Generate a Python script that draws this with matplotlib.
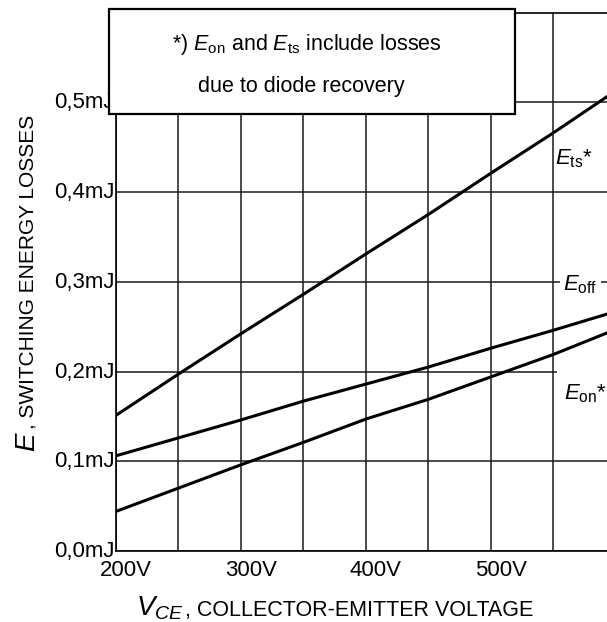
import matplotlib
matplotlib.use("Agg")
import matplotlib.pyplot as plt
from matplotlib.patches import Rectangle
from matplotlib.ticker import MultipleLocator, FixedLocator
import matplotlib.transforms as mtransforms

plt.rcParams['font.family'] = ['Liberation Sans', 'DejaVu Sans']
plt.rcParams['mathtext.fontset'] = 'custom'
plt.rcParams['mathtext.it'] = 'Liberation Sans:italic'
plt.rcParams['mathtext.rm'] = 'Liberation Sans'
plt.rcParams['mathtext.cal'] = 'Liberation Sans:italic'

# ---- data ----
voltage = [200, 250, 300, 350, 400, 450, 500, 550, 600]
E_ts = [0.151, 0.197, 0.242, 0.286, 0.331, 0.375, 0.421, 0.466, 0.513]
E_off = [0.106, 0.126, 0.146, 0.167, 0.186, 0.205, 0.226, 0.246, 0.267]
E_on = [0.044, 0.070, 0.096, 0.121, 0.147, 0.169, 0.194, 0.219, 0.247]

x_ticks = [200, 300, 400, 500]
x_tick_labels = ['200V', '300V', '400V', '500V']
y_ticks = [0.0, 0.1, 0.2, 0.3, 0.4, 0.5]
y_tick_labels = ['0,0mJ', '0,1mJ', '0,2mJ', '0,3mJ', '0,4mJ', '0,5mJ']

W, H = 607, 622
fig = plt.figure(figsize=(W / 100, H / 100), dpi=100)
ax = fig.add_axes([115.7 / W, (H - 551) / H, (W - 115.7) / W, (551 - 12.7) / H])

ax.set_xlim(200, 593.0)
ax.set_ylim(0, 0.6)

for s in ['left', 'bottom', 'top']:
    ax.spines[s].set_linewidth(1.2)
    ax.spines[s].set_color('black')
ax.spines['right'].set_visible(False)

ax.xaxis.set_major_locator(FixedLocator(x_ticks))
ax.xaxis.set_minor_locator(MultipleLocator(50))
ax.yaxis.set_major_locator(FixedLocator(y_ticks))
ax.set_xticklabels(x_tick_labels, fontsize=16)
ax.set_yticklabels(y_tick_labels, fontsize=16)
ax.tick_params(axis='both', which='both', length=0)
ax.tick_params(axis='x', pad=6.5)
ax.tick_params(axis='y', pad=0.5)
ax.set_axisbelow(True)
ax.grid(True, which='both', axis='x', color='#1a1a1a', linewidth=1.1)
ax.grid(True, which='major', axis='y', color='#1a1a1a', linewidth=1.1)

# shift x tick labels right (digits centred on the grid line)
offset = mtransforms.ScaledTranslation(10 / 100, 0, fig.dpi_scale_trans)
for lab in ax.get_xticklabels():
    lab.set_transform(lab.get_transform() + offset)
# lift y tick labels slightly
yoff = mtransforms.ScaledTranslation(0, 2 / 100, fig.dpi_scale_trans)
for lab in ax.get_yticklabels():
    lab.set_transform(lab.get_transform() + yoff)

# curves
for series in (E_ts, E_off, E_on):
    ax.plot(voltage, series, color='black', linewidth=2.2, zorder=3,
            solid_capstyle='butt')

# white mask that interrupts the 0,2 mJ grid line next to the E_on label
ax.add_patch(Rectangle((553.2, 0.194), 60, 0.012, facecolor='white',
                       edgecolor='none', zorder=1, clip_on=True))

# curve labels
ax.text(551.4, 0.4308, r'$E_{\mathrm{ts}}$*', fontsize=16, ha='left',
        va='baseline', zorder=4)
ax.text(557.8, 0.290, r'$E_{\mathrm{off}}$', fontsize=16, ha='left',
        va='baseline', zorder=4,
        bbox=dict(boxstyle='square,pad=0.15', facecolor='white', edgecolor='none'))
ax.text(558.5, 0.1689, r'$E_{\mathrm{on}}$*', fontsize=16, ha='left',
        va='baseline', zorder=4)

# note box
box = Rectangle((109 / W, (H - 114.3) / H), 406 / W, 105 / H,
                transform=fig.transFigure, facecolor='white', edgecolor='black',
                linewidth=1.6, zorder=10, clip_on=False)
ax.add_patch(box)
ax.text(307 / W, (H - 50) / H,
        r'*) $E_{\mathrm{on}}$ and $E_{\mathrm{ts}}$ include losses',
        transform=fig.transFigure, fontsize=15.5, ha='center', va='baseline',
        zorder=11)
ax.text(301.5 / W, (H - 91.7) / H, 'due to diode recovery',
        transform=fig.transFigure, fontsize=15.5, ha='center', va='baseline',
        zorder=11)

# y label: big italic E + rest
fig.text(35 / W, (H - 451.7) / H, r'$E$', fontsize=20, rotation=90,
         rotation_mode='anchor', ha='left', va='baseline')
fig.text(34 / W, (H - 115) / H, ', SWITCHING ENERGY LOSSES', fontsize=15,
         rotation=90, rotation_mode='anchor', ha='right', va='baseline')

# x label: big italic V_CE + rest
fig.text(136 / W, (H - 616) / H, r'$V_{CE}$', fontsize=20, ha='left',
         va='baseline')
fig.text(533 / W, (H - 616) / H, ', COLLECTOR-EMITTER VOLTAGE', fontsize=15.5,
         ha='right', va='baseline')

fig.savefig('out.png', dpi=100)
